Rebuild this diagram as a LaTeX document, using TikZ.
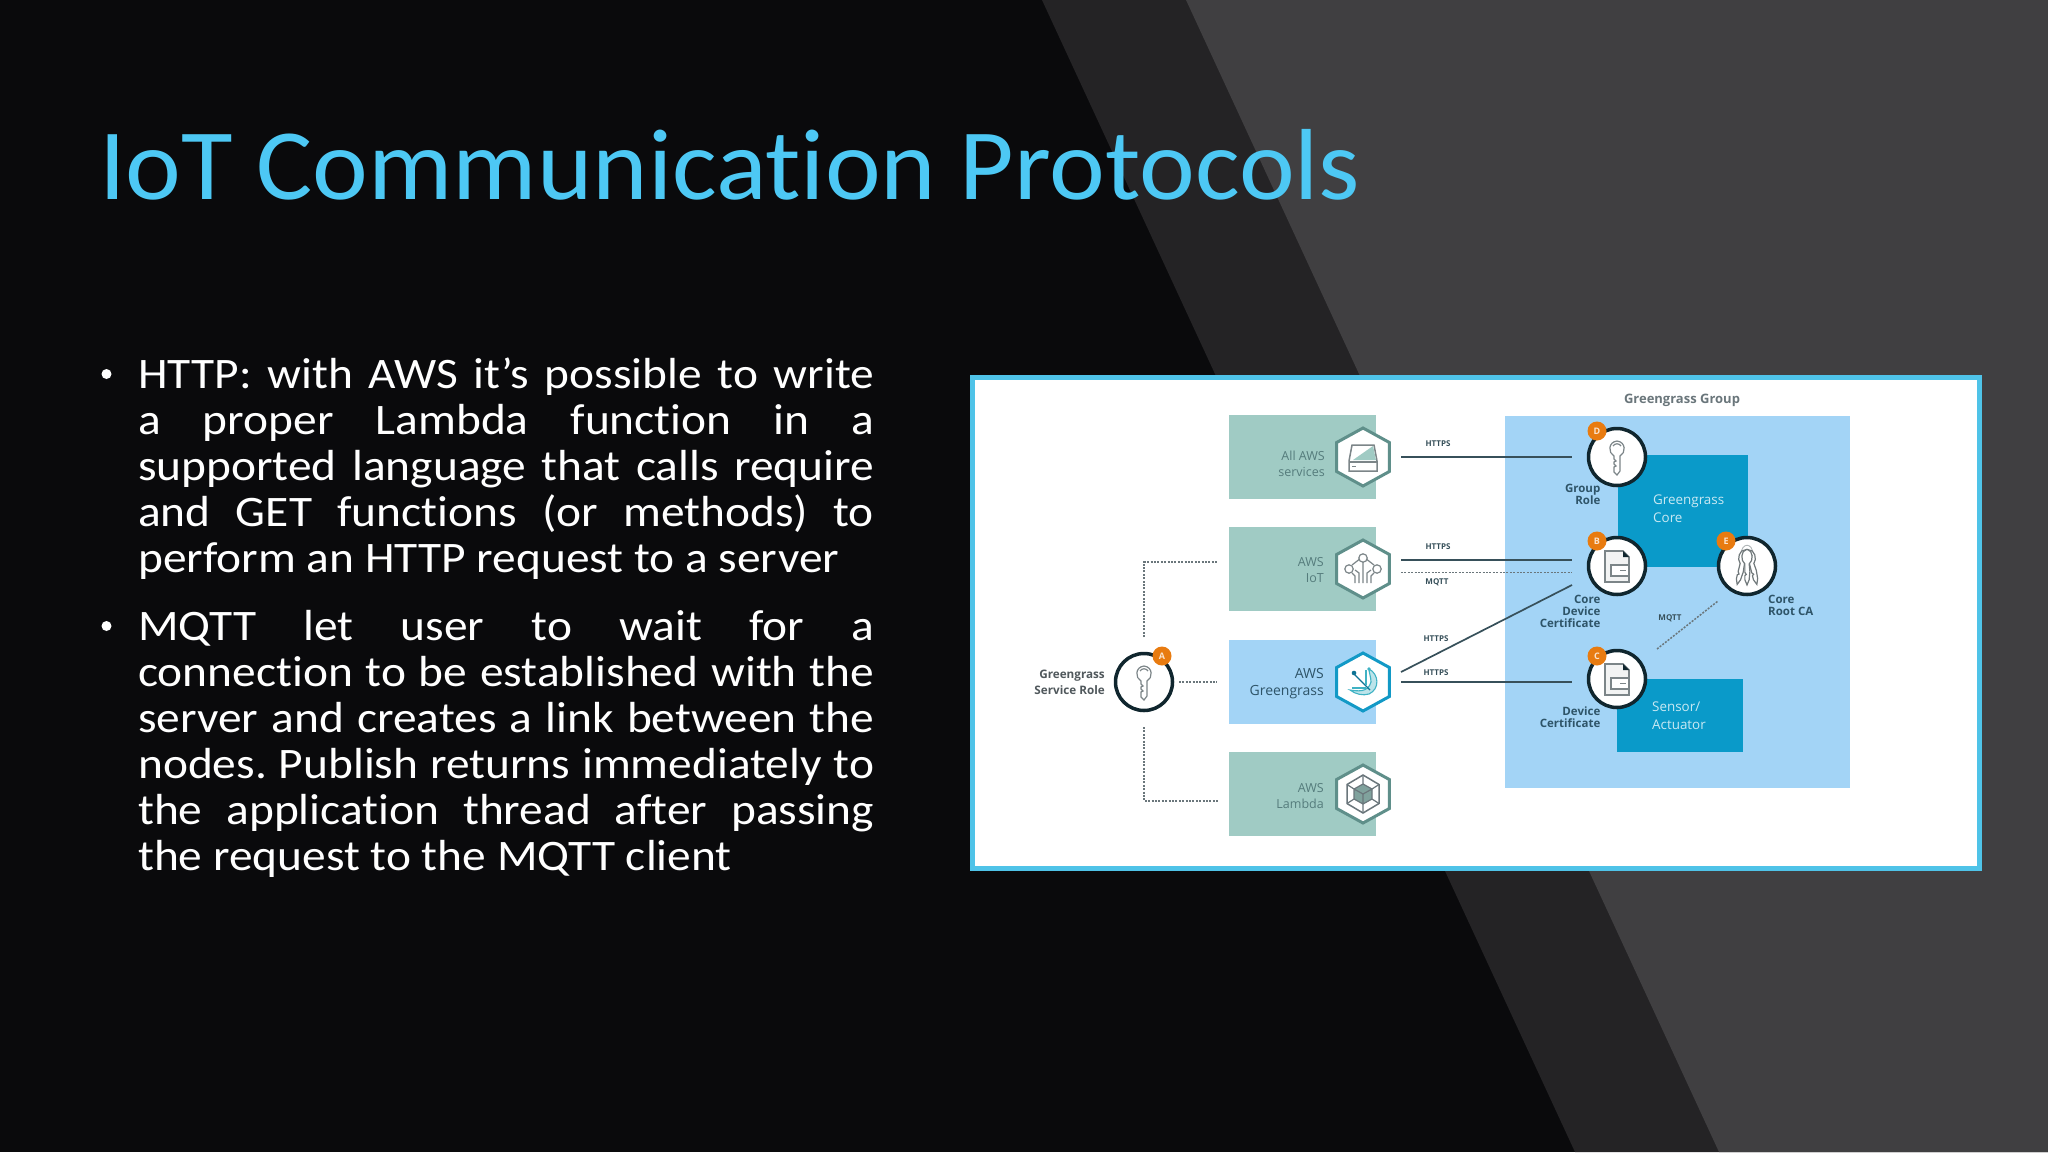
\documentclass[tikz,border=0pt]{standalone}
\usepackage{fontspec}
\usetikzlibrary{shapes.geometric,calc}
\setmainfont[Ligatures=NoCommon,FakeStretch=1.045]{Carlito}
\newfontfamily\bodyf[Ligatures=NoCommon,FakeStretch=1.09]{Carlito}
\newfontfamily\diafont{Open Sans}
\definecolor{bgk}{HTML}{0A0A0C}
\definecolor{bandA}{HTML}{242325}
\definecolor{bandB}{HTML}{403F41}
\definecolor{sky}{HTML}{4DC8F4}
\definecolor{framec}{HTML}{4FC3E8}
\definecolor{tealbox}{HTML}{A0CBC4}
\definecolor{bluebox}{HTML}{A3D4F6}
\definecolor{corebox}{HTML}{0A9AC9}
\definecolor{hexline}{HTML}{5F8F8A}
\definecolor{hexblue}{HTML}{1299C6}
\definecolor{ringc}{HTML}{10262E}
\definecolor{badge}{HTML}{E87B10}
\definecolor{wire}{HTML}{37505A}
\definecolor{dots}{HTML}{6A767B}
\definecolor{icong}{HTML}{7C8588}
\definecolor{lab}{HTML}{2E5468}
\definecolor{tlab}{HTML}{557C7C}
\definecolor{ggteal}{HTML}{3FB2C4}
\tikzset{
  box/.style={rectangle,inner sep=0,outer sep=0,minimum width=147,minimum height=84},
  hexa/.style={regular polygon,regular polygon sides=6,shape border rotate=30,inner sep=0,minimum size=58,fill=white,draw=hexline,line width=3,xscale=1.05,transform shape},
  ringn/.style={circle,inner sep=0,minimum size=57,fill=white,draw=ringc,line width=3.5},
  badgen/.style={circle,inner sep=0,minimum size=19,fill=badge,text=white!80!badge,font=\diafont\bfseries\fontsize{9}{9}\selectfont},
  conn/.style={draw=wire,line width=1.7},
  dotc/.style={draw=dots,line width=1.6,dash pattern=on 2pt off 1.4pt},
  proto/.style={inner sep=0,text=wire,font=\diafont\bfseries\fontsize{8}{8}\selectfont},
  tlabel/.style={inner sep=0,align=right,anchor=base east,text=tlab,font=\diafont\fontsize{12.5}{16}\selectfont},
  blabel/.style={inner sep=0,align=right,anchor=base east,text=lab,font=\diafont\bfseries\fontsize{11.5}{12}\selectfont},
  clabel/.style={inner sep=0,align=left,anchor=base west,text=white!78!corebox,font=\diafont\fontsize{13.4}{17.5}\selectfont},
  icon/.style={draw=icong,line width=1.2,fill=white},
  bodytext/.style={inner sep=0,anchor=base west,text width=736,align=justify,text=white},
  bulletn/.style={circle,inner sep=0,minimum size=10,fill=white},
  keyicon/.pic={
    \draw[icon] (-3,-1) .. controls (-9,-4) and (-9,-15) .. (0,-16) .. controls (9,-15) and (9,-4) .. (3,-1)
      -- (3,14) -- (0,18) -- (-3,15) -- (-3,10) -- (-1,9) -- (-3,7) -- (-3,5) -- (-1,4) -- (-3,2) -- cycle;
    \draw[icon,fill=none] (-4,-11) .. controls (-2,-14) and (2,-14) .. (4,-11);
  },
  certicon/.pic={
    \draw[icon,fill=white!90!icong,line width=1.6] (-12,-15) -- (6,-15) -- (12,-9) -- (12,16) -- (-12,16) -- cycle;
    \fill[ringc] (6,-15) -- (12,-9) -- (6,-9) -- cycle;
    \draw[icon,fill=white,line width=1.4] (-6,-1) rectangle (12,10);
    \draw[icon,line width=1] (3,4.5) -- (9,4.5);
  },
  ringicon/.pic={
    \draw[icon,fill=none,line width=.9,draw=icong!60] (-6,-11) .. controls (-6,-24) and (6,-24) .. (6,-11);
    \foreach \ang/\dx in {14/5,-14/-5,0/0}{
      \begin{scope}[shift={(\dx,-1)},rotate=\ang,xscale=.72,yscale=1.05]
        \draw[icon,draw=icong!90!black] (-3,-1) .. controls (-9,-4) and (-9,-14) .. (0,-15) .. controls (9,-14) and (9,-4) .. (3,-1)
          -- (4,6) -- (3,14) -- (0,19) -- (-3,14) -- (-3,10) -- (-1,9) -- (-3,7) -- cycle;
      \end{scope}
    }
  },
  driveicon/.pic={
    \draw[icon,line width=1.5] (-11,-12) -- (11,-12) -- (14,4) -- (14,14) -- (-14,14) -- (-14,4) -- cycle;
    \fill[tealbox] (10,-11) -- (13,3) -- (-10,3) -- cycle;
    \draw[icon,line width=1.2] (-14,5) -- (14,5);
    \draw[icon,line width=1] (-11,9.5) -- (-7,9.5);
  },
  ioticon/.pic={
    \draw[icon,fill=none] (-2,-11) -- (-11,-4) (2,-11) -- (11,-4) (0,-8) -- (0,14)
      (-4,14) -- (-4,4) -- (-8,1) (4,14) -- (4,4) -- (8,1) (-8,14) -- (-8,7) -- (-11,4) (8,14) -- (8,7) -- (11,4);
    \draw[icon] (0,-11) circle (4.2) (-14,0) circle (4.2) (14,0) circle (4.2);
  },
  ggicon/.pic={
    \draw[draw=ggteal,line width=1.1,fill=ggteal!35] (6,-13) .. controls (16,-8) and (17,7) .. (6,12) .. controls (0,14) and (-8,12) .. (-13,8) .. controls (-6,9) and (5,11) .. (8,0) .. controls (8,-5) and (6,-9) .. (6,-13) -- cycle;
    \draw[draw=hexblue!75!black,line width=1.2] (-9,-8) -- (7,8);
    \draw[draw=ggteal,line width=1.1] (3,-12) -- (3,3) (-11,6) -- (3,6);
    \fill[hexblue!75!black] (-9,-9) circle (2.3);
    \fill[ggteal] (6,-13) circle (1.8);
  },
  lamicon/.pic={
    \draw[icon,fill=none,line width=1.5,draw=dots] (0,-19) -- (16,-9.5) -- (16,9.5) -- (0,19) -- (-16,9.5) -- (-16,-9.5) -- cycle;
    \fill[tealbox!80!black] (0,-10) -- (9,-5) -- (9,5) -- (0,10) -- (-9,5) -- (-9,-5) -- cycle;
    \draw[icon,fill=none,line width=1.2,draw=dots] (0,-10) -- (9,-5) -- (9,5) -- (0,10) -- (-9,5) -- (-9,-5) -- cycle
      (-9,-5) -- (0,0) -- (9,-5) (0,0) -- (0,10) (0,-19) -- (0,-10) (16,-9.5) -- (9,-5) (16,9.5) -- (9,5) (0,19) -- (0,10) (-16,9.5) -- (-9,5) (-16,-9.5) -- (-9,-5);
  }
}
\begin{document}
\frenchspacing
\begin{tikzpicture}[x=1pt,y=-1pt]
\useasboundingbox (0,0) rectangle (2048,1152);
% background
\fill[bgk] (0,0) rectangle (2048,1152);
\fill[bandA] (1042,0) -- (2048,0) -- (2048,1152) -- (1575,1152) -- cycle;
\fill[bandB] (1186,0) -- (2048,0) -- (2048,1152) -- (1719,1152) -- cycle;
% title
\node[anchor=base west,inner sep=0,text=sky,font=\fontsize{101}{101}\selectfont] (title) at (99,199) {IoT Communication Protocols};
% bullets
\node[bulletn] (b1) at (106.5,374) {};
\node[bulletn] (b2) at (106.5,626) {};
\node[bodytext,font=\bodyf\fontsize{43.5}{46}\selectfont] (p1) at (138,388.5) {HTTP: with AWS it’s possible to write\linebreak a proper Lambda function in a\linebreak supported language that calls require\linebreak and GET functions (or methods) to\linebreak perform an HTTP request to a server};
\node[bodytext,font=\bodyf\fontsize{43.5}{46}\selectfont] (p2) at (138,640) {MQTT let user to wait for a\linebreak connection to be established with the\linebreak server and creates a link between the\linebreak nodes. Publish returns immediately to\linebreak the application thread after passing\linebreak the request to the MQTT client};
% frame
\node[rectangle,inner sep=0,outer sep=0,fill=white,draw=framec,line width=4.5,minimum width=1007.3,minimum height=491.1] (frame) at (1476.05,623.15) {};
% boxes left
\node[box,fill=tealbox] (boxAll) at (1302.5,457) {};
\node[box,fill=tealbox] (boxIoT) at (1302.5,569) {};
\node[box,fill=bluebox] (boxGG) at (1302.5,682) {};
\node[box,fill=tealbox] (boxLam) at (1302.5,794) {};
\node[hexa] (hexAll) at (1363,457) {};
\node[hexa] (hexIoT) at (1363,569) {};
\node[hexa,draw=hexblue] (hexGG) at (1363,682) {};
\node[hexa] (hexLam) at (1363,794) {};
\pic at (1363,457) {driveicon};
\pic at (1363,569) {ioticon};
\pic at (1363,682) {ggicon};
\pic at (1363,794) {lamicon};
\node[tlabel] (tAll) at (1325,476) {All AWS\\services};
\node[tlabel] (tIoT) at (1324,582) {AWS\\IoT};
\node[tlabel,text=lab,font=\diafont\fontsize{14}{17}\selectfont] (tGG) at (1324,695) {AWS\\Greengrass};
\node[tlabel] (tLam) at (1324,808) {AWS\\Lambda};
% service role
\node[ringn] (circA) at (1144,682) {};
\pic at (1144,682) {keyicon};
\node[badgen] (badA) at (1162,656) {A};
\node[blabel,font=\diafont\bfseries\fontsize{11.7}{16}\selectfont,text=dots!75!black] (tRole) at (1105,694) {Greengrass\\Service Role};
% group
\node[rectangle,inner sep=0,outer sep=0,fill=bluebox,minimum width=345,minimum height=372] (group) at (1677.5,602) {};
\node[rectangle,inner sep=0,outer sep=0,fill=corebox,minimum width=130,minimum height=112] (core) at (1683,511) {};
\node[rectangle,inner sep=0,outer sep=0,fill=corebox,minimum width=126,minimum height=73] (sensor) at (1680,715.5) {};
\node[anchor=base,inner sep=0,text=dots,font=\diafont\bfseries\fontsize{13}{13}\selectfont] (gtitle) at (1682,403) {Greengrass Group};
\node[clabel] (tCore) at (1653,522) {Greengrass\\Core};
\node[clabel] (tSens) at (1652,729) {Sensor/\\Actuator};
\node[ringn] (circD) at (1617,457) {};
\node[ringn] (circB) at (1617,566) {};
\node[ringn] (circC) at (1617,679) {};
\node[ringn] (circE) at (1747,566) {};
\pic at (1617,457) {keyicon};
\pic at (1617,566) {certicon};
\pic at (1617,679) {certicon};
\pic at (1747,566) {ringicon};
\node[badgen] (badD) at (1597,431) {D};
\node[badgen] (badB) at (1597,541) {B};
\node[badgen] (badC) at (1597,656) {C};
\node[badgen] (badE) at (1726,541) {E};
\node[blabel] (tGroup) at (1600.5,504) {Group\\Role};
\node[blabel] (tCert) at (1600.5,627) {Core\\Device\\Certificate};
\node[blabel] (tDev) at (1600.5,727) {Device\\Certificate};
\node[blabel,align=left,anchor=base west] (tRoot) at (1768,615) {Core\\Root CA};
% connectors
\draw[conn] ([shift={(38,0)}]hexAll.center) -- ([shift={(-45,0)}]circD.center);
\draw[conn] ([shift={(38,-9)}]hexIoT.center) -- ([shift={(-45,-6)}]circB.center);
\draw[dotc] ([shift={(38,3.5)}]hexIoT.center) -- ([shift={(-45,6.5)}]circB.center);
\draw[conn] ([shift={(38,-10)}]hexGG.center) -- ([shift={(-45,19)}]circB.center);
\draw[conn] ([shift={(38,0)}]hexGG.center) -- ([shift={(-45,3)}]circC.center);
\draw[dotc] ([shift={(0,-45)}]circA.center) |- ([shift={(-11,35)}]boxIoT.north west);
\draw[dotc] ([shift={(35,0)}]circA.center) -- ([shift={(-12,0)}]boxGG.west);
\draw[dotc] ([shift={(0,45)}]circA.center) |- ([shift={(-11,49)}]boxLam.north west);
\draw[dotc,line width=1.5] ([shift={(40,-30)}]circC.center) -- ([shift={(-29,35)}]circE.center);
% protocol labels
\node[proto] (pA) at (1438,444) {HTTPS};
\node[proto] (pB) at (1438,547) {HTTPS};
\node[proto] (pC) at (1437,582) {MQTT};
\node[proto] (pD) at (1436,639) {HTTPS};
\node[proto] (pE) at (1436,672.5) {HTTPS};
\node[proto] (pF) at (1670,618) {MQTT};
\end{tikzpicture}
\end{document}
